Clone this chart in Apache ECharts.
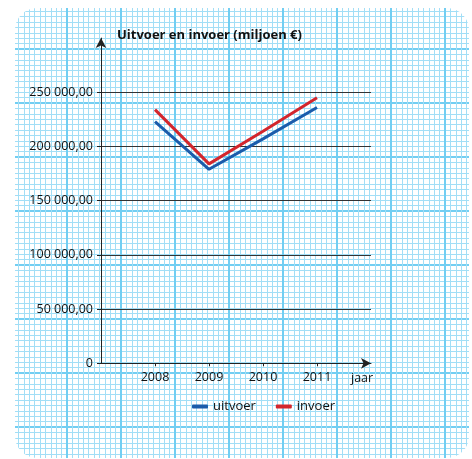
<!DOCTYPE html>
<html>
<head>
<meta charset="utf-8">
<script src="https://cdn.jsdelivr.net/npm/echarts@6/dist/echarts.min.js"></script>
<style>
  html, body { margin: 0; padding: 0; background: #ffffff; }
  #chart {
    position: absolute; left: 0; top: 0; width: 472px; height: 459px;
    clip-path: inset(8px 3px 1px 15px round 22px);
  }
</style>
</head>
<body>
<div id="chart"></div>
<script>
// ---- data ----
const years = [2008, 2009, 2010, 2011];
const uitvoer = [223000, 179000, 207000, 236000];
const invoer  = [234000, 184000, 214000, 245000];
const seriesNames = ['uitvoer', 'invoer'];
const titleText = 'Uitvoer en invoer (miljoen €)';
const xAxisName = 'jaar';

const FONT = 'Open Sans';
const chart = echarts.init(document.getElementById('chart'), null, { renderer: 'canvas' });

function fmtNum(v) {
  if (v === 0) return '0';
  const s = Math.round(v).toString().replace(/\B(?=(\d{3})+(?!\d))/g, ' ');
  return s + ',00';
}

const paperMinor = '#a2def6';
const paperMajor = '#72cef2';

const option = {
  animation: false,
  backgroundColor: 'transparent',
  title: {
    text: titleText,
    left: 117, top: 29, padding: 0,
    textStyle: { fontFamily: FONT, fontSize: 13, fontWeight: 'bold', color: '#111' }
  },
  legend: {
    data: seriesNames,
    left: 192, top: 400,
    icon: 'roundRect',
    itemWidth: 16, itemHeight: 4, itemGap: 20,
    padding: 0,
    textStyle: { fontFamily: FONT, fontSize: 13, color: '#111' }
  },
  grid: [
    { left: 101, top: 38.1, width: 270, height: 325.2, outerBoundsMode: 'none' },
    { left: 13, top: -5, width: 540, height: 540, z: -1, outerBoundsMode: 'none' }
  ],
  xAxis: [
    {
      gridIndex: 0, type: 'value', min: 2007, max: 2012, interval: 1, z: 3,
      name: xAxisName, nameLocation: 'end', nameGap: -20,
      nameTextStyle: { fontFamily: FONT, fontSize: 12.5, color: '#111', verticalAlign: 'top', padding: [9, 0, 0, 0] },
      axisLine: { show: true, symbol: ['none', 'arrow'], symbolSize: [8, 10], lineStyle: { color: '#222', width: 1 } },
      axisTick: { show: true, length: 3, lineStyle: { color: '#222' } },
      axisLabel: {
        fontFamily: FONT, fontSize: 12.5, color: '#111', margin: 8,
        showMinLabel: false, showMaxLabel: false,
        formatter: v => (years.indexOf(v) >= 0 ? String(v) : '')
      },
      splitLine: { show: false }
    },
    {
      gridIndex: 1, type: 'value', min: 0, max: 100, interval: 10, z: -1,
      axisLine: { show: false }, axisTick: { show: false }, axisLabel: { show: false },
      splitLine: { show: true, lineStyle: { color: paperMajor, width: 2 } },
      minorTick: { show: false, splitNumber: 10 },
      minorSplitLine: { show: true, lineStyle: { color: paperMinor, width: 1 } }
    }
  ],
  yAxis: [
    {
      gridIndex: 0, type: 'value', min: 0, max: 300000, interval: 50000, z: 3,
      axisLine: { show: true, symbol: ['none', 'arrow'], symbolSize: [8, 10], lineStyle: { color: '#222', width: 1 } },
      axisTick: { show: true, length: 4, lineStyle: { color: '#222' } },
      axisLabel: {
        fontFamily: FONT, fontSize: 12.5, color: '#111', margin: 8,
        showMaxLabel: false,
        formatter: v => fmtNum(v)
      },
      splitLine: { show: true, showMaxLine: false, lineStyle: { color: '#333', width: 1 } }
    },
    {
      gridIndex: 1, type: 'value', min: 0, max: 100, interval: 10, z: -1,
      axisLine: { show: false }, axisTick: { show: false }, axisLabel: { show: false },
      splitLine: { show: true, lineStyle: { color: paperMajor, width: 2 } },
      minorTick: { show: false, splitNumber: 10 },
      minorSplitLine: { show: true, lineStyle: { color: paperMinor, width: 1 } }
    }
  ],
  series: [
    {
      name: seriesNames[0], type: 'line', xAxisIndex: 0, yAxisIndex: 0, z: 5,
      symbol: 'none', color: '#1b5cab',
      lineStyle: { width: 3, color: '#1b5cab' },
      data: years.map((y, i) => [y, uitvoer[i]])
    },
    {
      name: seriesNames[1], type: 'line', xAxisIndex: 0, yAxisIndex: 0, z: 5,
      symbol: 'none', color: '#d3262d',
      lineStyle: { width: 3, color: '#d3262d' },
      data: years.map((y, i) => [y, invoer[i]])
    }
  ]
};
chart.setOption(option);
</script>
</body>
</html>
